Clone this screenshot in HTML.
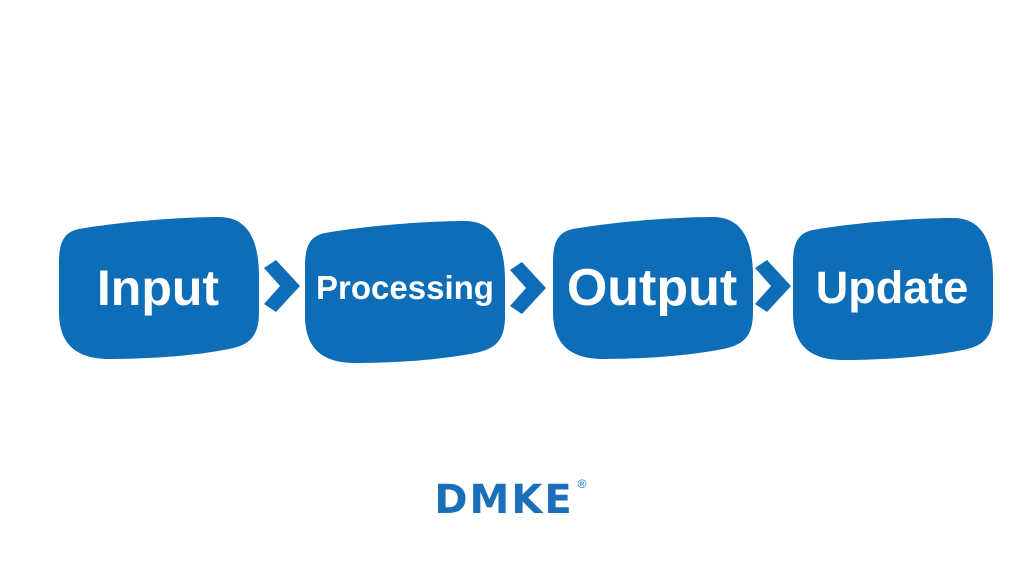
<!DOCTYPE html>
<html><head><style>
html,body{margin:0;padding:0;background:#fff;}
svg{display:block}
text{font-family:"Liberation Sans",sans-serif;font-weight:bold;fill:#fff}
</style></head><body>
<svg width="1024" height="576" viewBox="0 0 1024 576">
<defs>
<path id="b" d="M20,12 C60,5 120,0 160,0 C190,0 200,25 200,60 L200,95 C200,120 190,128 170,132 C130,140 80,142 50,142 C15,142 0,125 0,95 L0,45 C0,25 5,15 20,12 Z" fill="#0d6eb7"/>
<path id="c" d="M0,0 L12,-8 L36,18 L12,44 L0,36 L16,18 Z" fill="#0d6eb7"/>
</defs>
<use href="#b" x="59" y="217"/>
<use href="#b" x="305" y="221"/>
<use href="#b" x="553" y="217"/>
<use href="#b" x="793" y="218"/>
<use href="#c" x="264" y="268"/>
<use href="#c" x="510" y="270"/>
<use href="#c" x="755" y="268"/>
<text x="158" y="305" font-size="50" text-anchor="middle">Input</text>
<text x="405" y="299" font-size="33" text-anchor="middle">Processing</text>
<text x="652" y="305" font-size="52" text-anchor="middle">Output</text>
<text x="892" y="303" font-size="45" text-anchor="middle">Update</text>
<text x="504" y="513" font-size="40" text-anchor="middle" style="fill:#1a6fb8;font-family:'DejaVu Sans',sans-serif;letter-spacing:2px">DMKE</text>
<text x="582" y="488" font-size="12" text-anchor="middle" style="fill:#1a6fb8;font-weight:normal">®</text>
</svg>
</body></html>
